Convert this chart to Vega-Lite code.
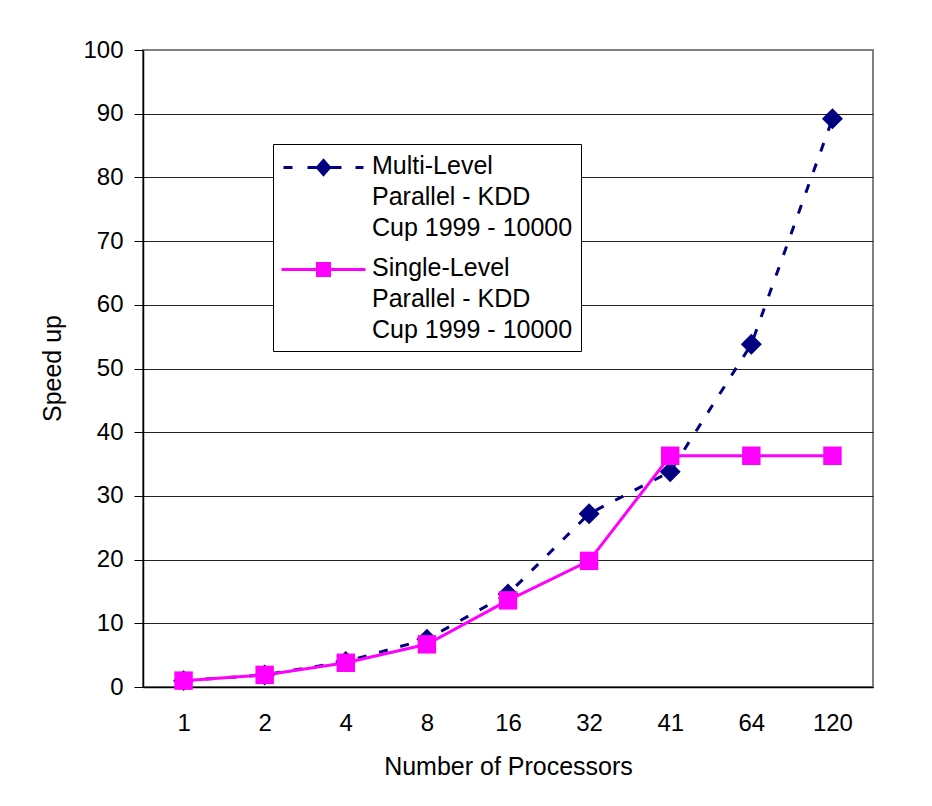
{
  "$schema": "https://vega.github.io/schema/vega-lite/v6.json",
  "width": 730,
  "height": 637,
  "autosize": "none",
  "padding": {"left": 143, "top": 50, "right": 59, "bottom": 119},
  "background": "white",
  "config": {
    "font": "Liberation Sans",
    "view": {"stroke": "#808080", "strokeWidth": 2},
    "axis": {"labelColor": "black", "titleColor": "black", "titleFontWeight": "normal"}
  },
  "data": {
    "values": [
      {"procs": 1, "series": "Multi-Level Parallel - KDD Cup 1999 - 10000", "speedup": 1.0},
      {"procs": 2, "series": "Multi-Level Parallel - KDD Cup 1999 - 10000", "speedup": 1.9},
      {"procs": 4, "series": "Multi-Level Parallel - KDD Cup 1999 - 10000", "speedup": 4.0},
      {"procs": 8, "series": "Multi-Level Parallel - KDD Cup 1999 - 10000", "speedup": 7.5},
      {"procs": 16, "series": "Multi-Level Parallel - KDD Cup 1999 - 10000", "speedup": 14.6},
      {"procs": 32, "series": "Multi-Level Parallel - KDD Cup 1999 - 10000", "speedup": 27.2},
      {"procs": 41, "series": "Multi-Level Parallel - KDD Cup 1999 - 10000", "speedup": 33.8},
      {"procs": 64, "series": "Multi-Level Parallel - KDD Cup 1999 - 10000", "speedup": 53.8},
      {"procs": 120, "series": "Multi-Level Parallel - KDD Cup 1999 - 10000", "speedup": 89.2},
      {"procs": 1, "series": "Single-Level Parallel - KDD Cup 1999 - 10000", "speedup": 1.0},
      {"procs": 2, "series": "Single-Level Parallel - KDD Cup 1999 - 10000", "speedup": 1.9},
      {"procs": 4, "series": "Single-Level Parallel - KDD Cup 1999 - 10000", "speedup": 3.8},
      {"procs": 8, "series": "Single-Level Parallel - KDD Cup 1999 - 10000", "speedup": 6.7},
      {"procs": 16, "series": "Single-Level Parallel - KDD Cup 1999 - 10000", "speedup": 13.6},
      {"procs": 32, "series": "Single-Level Parallel - KDD Cup 1999 - 10000", "speedup": 19.8},
      {"procs": 41, "series": "Single-Level Parallel - KDD Cup 1999 - 10000", "speedup": 36.3},
      {"procs": 64, "series": "Single-Level Parallel - KDD Cup 1999 - 10000", "speedup": 36.3},
      {"procs": 120, "series": "Single-Level Parallel - KDD Cup 1999 - 10000", "speedup": 36.3}
    ]
  },
  "encoding": {
    "x": {
      "field": "procs",
      "type": "ordinal",
      "sort": [1, 2, 4, 8, 16, 32, 41, 64, 120],
      "scale": {"padding": 0.5},
      "axis": {
        "title": "Number of Processors",
        "labelAngle": 0,
        "labelFontSize": 24,
        "labelPadding": 24,
        "ticks": false,
        "grid": false,
        "domainColor": "black",
        "domainWidth": 1.5,
        "titleFontSize": 25,
        "titleBaseline": "top",
        "titleY": 67
      }
    },
    "y": {
      "field": "speedup",
      "type": "quantitative",
      "scale": {"domain": [0, 100], "nice": false},
      "axis": {
        "title": "Speed up",
        "values": [0, 10, 20, 30, 40, 50, 60, 70, 80, 90, 100],
        "labelFontSize": 24,
        "labelPadding": 11,
        "tickSize": 9,
        "tickColor": "black",
        "domainColor": "black",
        "domainWidth": 1.5,
        "gridColor": {"condition": {"test": "datum.value === 100", "value": "#808080"}, "value": "#222222"},
        "gridWidth": 1,
        "gridOpacity": 1,
        "titleFontSize": 25,
        "titleAngle": -90,
        "titleAlign": "center",
        "titleBaseline": "middle",
        "titleX": -91,
        "titleY": 318
      }
    },
    "color": {
      "field": "series",
      "type": "nominal",
      "scale": {
        "domain": ["Multi-Level Parallel - KDD Cup 1999 - 10000", "Single-Level Parallel - KDD Cup 1999 - 10000"],
        "range": ["#000080", "#FF00FF"]
      },
      "legend": {
        "orient": "none",
        "legendX": 130,
        "legendY": 94,
        "title": null,
        "strokeColor": "black",
        "fillColor": "white",
        "padding": 8,
        "rowPadding": 13,
        "symbolSize": 784,
        "symbolOffset": 27,
        "labelFontSize": 25,
        "labelColor": "black",
        "labelOffset": 33,
        "labelLimit": 400,
        "labelBaseline": "top",
        "labelExpr": "indexof(datum.label, 'Multi') === 0 ? ['Multi-Level', 'Parallel - KDD', 'Cup 1999 - 10000'] : ['Single-Level', 'Parallel - KDD', 'Cup 1999 - 10000']",
        "encode": {
          "symbols": {
            "update": {
              "shape": {"signal": "indexof(datum.value, 'Multi') === 0 ? 'M-2.857,0H-2.214M-1.143,0H1.286M2.286,0H2.857M-0.43,0L0,-0.5L0.43,0L0,0.5Z' : 'M-3,0H3M-0.43,-0.43H0.43V0.43H-0.43Z'"},
              "fill": {"scale": "color", "field": "value"},
              "stroke": {"scale": "color", "field": "value"},
              "strokeWidth": {"value": 3},
              "strokeDash": {"value": []},
              "opacity": {"value": 1},
              "fillOpacity": {"value": 1},
              "strokeOpacity": {"value": 1}
            }
          },
          "labels": {
            "update": {
              "lineHeight": {"value": 31},
              "dy": {"value": -14}
            }
          }
        }
      }
    }
  },
  "layer": [
    {
      "transform": [{"filter": "indexof(datum.series, 'Multi') === 0"}],
      "mark": {"type": "line", "strokeWidth": 3, "strokeDash": [9, 13]}
    },
    {
      "transform": [{"filter": "indexof(datum.series, 'Multi') === 0"}],
      "mark": {"type": "point", "shape": "diamond", "filled": true, "opacity": 1, "size": 440}
    },
    {
      "transform": [{"filter": "indexof(datum.series, 'Single') === 0"}],
      "mark": {"type": "line", "strokeWidth": 3}
    },
    {
      "transform": [{"filter": "indexof(datum.series, 'Single') === 0"}],
      "mark": {"type": "point", "shape": "square", "filled": true, "opacity": 1, "size": 340}
    }
  ]
}
